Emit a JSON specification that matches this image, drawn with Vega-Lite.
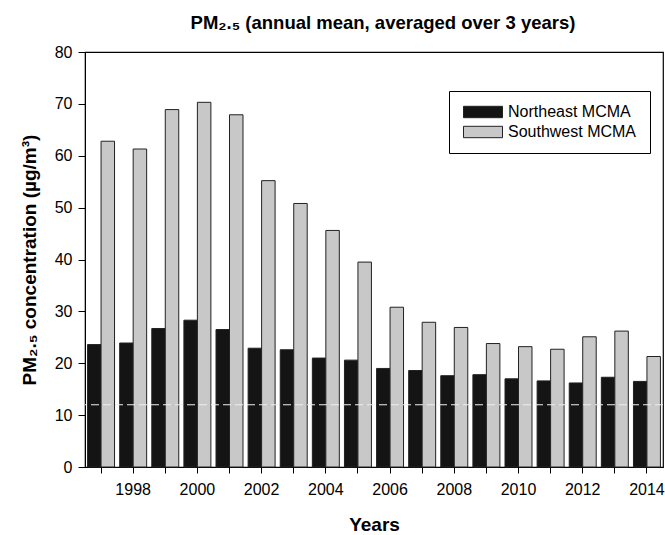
{
  "$schema": "https://vega.github.io/schema/vega-lite/v6.json",
  "width": 578,
  "height": 415,
  "autosize": "none",
  "padding": {"left": 85, "top": 52, "right": 2, "bottom": 68},
  "background": "white",
  "config": {
    "font": "Liberation Sans",
    "view": {"stroke": "black", "strokeWidth": 1.2},
    "axis": {"domainColor": "black", "tickColor": "black", "labelColor": "black", "titleColor": "black", "grid": false, "labelFont": "Liberation Sans", "titleFont": "Liberation Sans"}
  },
  "title": {"text": "PM₂.₅ (annual mean, averaged over 3 years)", "fontSize": 18.5, "fontWeight": "bold", "font": "Liberation Sans", "color": "black", "anchor": "middle", "offset": 12, "dx": 9},
  "data": {"values": [
    {"year": 1997, "region": "Northeast MCMA", "value": 23.6}, {"year": 1997, "region": "Southwest MCMA", "value": 62.8},
    {"year": 1998, "region": "Northeast MCMA", "value": 23.9}, {"year": 1998, "region": "Southwest MCMA", "value": 61.3},
    {"year": 1999, "region": "Northeast MCMA", "value": 26.7}, {"year": 1999, "region": "Southwest MCMA", "value": 68.9},
    {"year": 2000, "region": "Northeast MCMA", "value": 28.3}, {"year": 2000, "region": "Southwest MCMA", "value": 70.3},
    {"year": 2001, "region": "Northeast MCMA", "value": 26.5}, {"year": 2001, "region": "Southwest MCMA", "value": 67.9},
    {"year": 2002, "region": "Northeast MCMA", "value": 22.9}, {"year": 2002, "region": "Southwest MCMA", "value": 55.2},
    {"year": 2003, "region": "Northeast MCMA", "value": 22.6}, {"year": 2003, "region": "Southwest MCMA", "value": 50.8},
    {"year": 2004, "region": "Northeast MCMA", "value": 21.0}, {"year": 2004, "region": "Southwest MCMA", "value": 45.6},
    {"year": 2005, "region": "Northeast MCMA", "value": 20.6}, {"year": 2005, "region": "Southwest MCMA", "value": 39.5},
    {"year": 2006, "region": "Northeast MCMA", "value": 19.0}, {"year": 2006, "region": "Southwest MCMA", "value": 30.8},
    {"year": 2007, "region": "Northeast MCMA", "value": 18.6}, {"year": 2007, "region": "Southwest MCMA", "value": 27.9},
    {"year": 2008, "region": "Northeast MCMA", "value": 17.6}, {"year": 2008, "region": "Southwest MCMA", "value": 26.9},
    {"year": 2009, "region": "Northeast MCMA", "value": 17.8}, {"year": 2009, "region": "Southwest MCMA", "value": 23.8},
    {"year": 2010, "region": "Northeast MCMA", "value": 17.0}, {"year": 2010, "region": "Southwest MCMA", "value": 23.2},
    {"year": 2011, "region": "Northeast MCMA", "value": 16.6}, {"year": 2011, "region": "Southwest MCMA", "value": 22.7},
    {"year": 2012, "region": "Northeast MCMA", "value": 16.2}, {"year": 2012, "region": "Southwest MCMA", "value": 25.1},
    {"year": 2013, "region": "Northeast MCMA", "value": 17.3}, {"year": 2013, "region": "Southwest MCMA", "value": 26.2},
    {"year": 2014, "region": "Northeast MCMA", "value": 16.5}, {"year": 2014, "region": "Southwest MCMA", "value": 21.3}
  ]},
  "layer": [
    {
      "mark": {"type": "bar", "strokeWidth": 1, "stroke": "#222"},
      "encoding": {
        "x": {"field": "year", "type": "ordinal", "scale": {"paddingInner": 0.16, "paddingOuter": 0.08},
          "axis": {"title": "Years", "titleFontSize": 19, "titleFontWeight": "bold", "titlePadding": 18, "labelAngle": 0, "labelFontSize": 16, "labelPadding": 8, "tickSize": 6, "labelExpr": "datum.value % 2 == 0 ? datum.label : ''"}},
        "xOffset": {"field": "region", "type": "nominal"},
        "y": {"field": "value", "type": "quantitative", "scale": {"domain": [0, 80], "nice": false},
          "axis": {"title": "PM₂.₅ concentration (µg/m³)", "titleFontSize": 19, "titleFontWeight": "bold", "titlePadding": 15, "labelFontSize": 16, "labelPadding": 6, "tickSize": 7, "values": [0, 10, 20, 30, 40, 50, 60, 70, 80]}},
        "color": {"field": "region", "type": "nominal", "scale": {"domain": ["Northeast MCMA", "Southwest MCMA"], "range": ["#141414", "#c8c8c8"]},
          "legend": {"title": null, "orient": "none", "legendX": 364, "legendY": 39, "strokeColor": "black", "fillColor": "white", "padding": 13, "labelFontSize": 16, "labelColor": "black", "labelOffset": 17, "symbolOffset": 13, "rowPadding": 4, "symbolType": "M-3.25,-0.95H3.25V0.95H-3.25Z", "symbolSize": 144, "symbolStrokeColor": "#222", "symbolStrokeWidth": 1, "symbolOpacity": 1}}
      }
    },
    {
      "data": {"values": [{"threshold": 12}]},
      "mark": {"type": "rule", "color": "#eeeeee", "strokeWidth": 1, "strokeDash": [8, 4]},
      "encoding": {"y": {"field": "threshold", "type": "quantitative"}}
    }
  ]
}
